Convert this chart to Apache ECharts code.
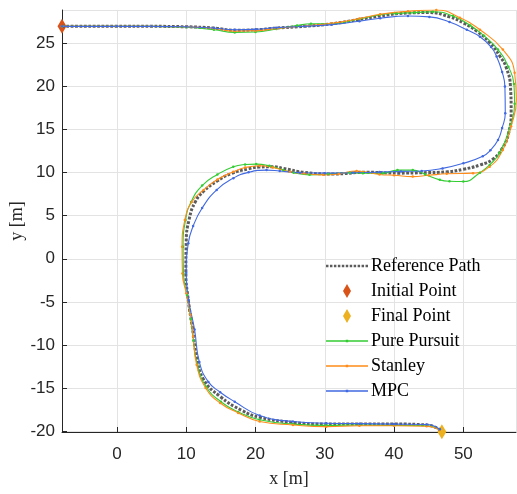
<!DOCTYPE html>
<html>
<head>
<meta charset="utf-8">
<script src="https://cdn.jsdelivr.net/npm/echarts@6/dist/echarts.min.js"></script>
<style>
  html, body { margin: 0; padding: 0; background: #fff; }
  #chart { width: 517px; height: 494px; }
</style>
</head>
<body>
<div id="chart"></div>
<script>
// trajectories, [x, y] in metres
const refPath = [
  [-7.93, 27.0], [0, 27.0], [5, 27.0], [10, 26.95], [14, 26.8], [17, 26.55], [20, 26.6],
  [23, 26.8], [27, 27.0], [31, 27.3], [35, 27.8], [38, 28.2], [42, 28.55], [45, 28.6],
  [48, 28.1], [50, 27.4], [52, 26.4], [53.8, 25.1], [55.3, 23.5], [56.2, 22.2], [56.8, 20.0],
  [56.9, 17.0], [56.5, 14.5], [55.6, 12.8], [54.3, 11.6], [52.4, 10.9], [50, 10.4], [47.6, 10.1],
  [44, 10.0], [40.8, 9.95], [36, 10.05], [31.2, 9.85], [27, 10.05], [24, 10.5], [22.5, 10.7],
  [20.5, 10.65], [19, 10.45], [16.5, 9.9], [14.4, 9.0], [12.6, 7.9], [11.3, 6.6], [10.4, 4.5],
  [10.0, 2.0], [9.95, -1.5], [10.3, -4.8], [10.9, -8.0], [11.5, -11.3], [12.5, -14.0],
  [14.9, -16.0], [18, -17.6], [20.6, -18.4], [25.4, -19.0], [30.2, -19.2], [35, -19.2],
  [40, -19.2], [44.7, -19.3], [46.6, -19.85]
];
const initialPoint = [[-7.93, 27.0]];
const finalPoint = [[46.9, -20.1]];
const purePursuit = [
  [-7.93, 27.0], [0, 27.0], [5, 27.0], [10, 26.9], [14, 26.6], [17, 26.3], [20, 26.35],
  [23, 26.7], [26, 27.1], [28, 27.3], [31, 27.3], [35, 27.85], [38, 28.35], [40.3, 28.5],
  [43, 28.6], [45.6, 28.7], [48.5, 28.2], [51, 27.1], [53, 25.9], [55, 24.3], [56.5, 22.3],
  [57.3, 20.3], [57.4, 18.0], [56.8, 15.5], [55.2, 12.3], [53.8, 10.9], [52.4, 10.0],
  [50, 8.97], [48, 9.0], [46.6, 9.17], [44.5, 9.8], [42.7, 10.3], [40.5, 10.3], [38.4, 9.95],
  [35.5, 9.95], [33.6, 10.0], [30.5, 9.85], [27.8, 9.75], [25.5, 10.0], [24, 10.3], [22, 10.8],
  [20.1, 11.0], [18.5, 10.95], [16.8, 10.7], [14.5, 9.8], [12.3, 8.5], [10.7, 6.6], [9.9, 4.5],
  [9.55, 1.4], [9.6, -1.7], [10.1, -4.2], [10.65, -7.0], [11.05, -9.5], [11.6, -12.3],
  [12.9, -14.9], [15.0, -16.6], [17.5, -17.8], [20.6, -18.7], [25.4, -19.2], [30.2, -19.35],
  [35, -19.3], [40, -19.35], [44.7, -19.4], [46.6, -19.85]
];
const stanley = [
  [-7.93, 27.0], [0, 27.0], [5, 27.0], [10, 26.95], [14, 26.75], [17, 26.45], [20, 26.5],
  [23, 26.75], [27, 27.05], [31, 27.35], [35, 27.9], [38, 28.4], [42, 28.75], [46.1, 28.9],
  [49.5, 28.0], [52.4, 26.6], [55.7, 24.3], [57.4, 21.6], [57.65, 18.5], [56.9, 15.4],
  [55.7, 12.65], [53.8, 10.7], [51.4, 9.95], [47.6, 9.87], [45, 9.7], [42.7, 9.55], [40, 9.7],
  [37.9, 9.8], [34.6, 10.2], [32, 9.85], [29.8, 9.75], [27, 9.9], [25, 10.1], [22.5, 10.6],
  [20.6, 10.8], [18.5, 10.6], [16.8, 10.1], [14.5, 9.2], [12.5, 8.0], [10.8, 6.6], [9.8, 4.5],
  [9.4, 1.4], [9.45, -1.7], [10.0, -4.0], [10.6, -6.5], [11.0, -9.0], [11.5, -12.3],
  [12.8, -15.0], [14.9, -16.75], [17.5, -17.9], [20.6, -18.9], [25.4, -19.3], [30.2, -19.5],
  [35, -19.4], [40, -19.4], [44.7, -19.45], [46.6, -19.9]
];
const mpc = [
  [-7.93, 27.0], [0, 27.0], [5, 27.0], [10, 26.95], [14, 26.8], [17, 26.6], [20, 26.65],
  [23, 26.85], [27, 27.0], [31, 27.2], [35, 27.6], [38, 27.95], [42, 28.2], [45.1, 28.1],
  [48, 27.5], [50.5, 26.6], [52.4, 25.8], [54, 24.6], [54.8, 23.5], [55.6, 21.7], [56.0, 20.0],
  [56.05, 16.9], [55.6, 15.2], [55.0, 13.8], [53.9, 12.6], [52.8, 11.9], [50, 11.1], [47, 10.5],
  [44, 10.2], [41, 10.15], [37.9, 10.07], [34, 10.0], [30, 9.95], [26.4, 10.0], [23.5, 10.2],
  [21.6, 10.3], [19, 10.05], [16.8, 9.37], [14.4, 8.0], [12.3, 5.9], [11.0, 3.8], [10.3, 1.8],
  [10.0, -1.66], [10.35, -4.8], [11.2, -8.2], [11.9, -12.0], [13.2, -14.3], [14.9, -15.5],
  [17, -16.6], [20.6, -18.2], [25.4, -18.9], [30.2, -19.1], [35, -19.15], [40, -19.2],
  [44.7, -19.25], [46.6, -19.8]
];

const seriesNames = ['Reference Path', 'Initial Point', 'Final Point', 'Pure Pursuit', 'Stanley', 'MPC'];
const colors = {
  ref: '#5c5c5c',
  init: '#D95319',
  final: '#EDB120',
  pp: '#33CC33',
  st: '#FF8C1A',
  mpc: '#4169E1'
};

const dotIcon = 'path://M0,6 L2.5,6 L2.5,8.5 L0,8.5 Z M4,6 L6.5,6 L6.5,8.5 L4,8.5 Z M8,6 L10.5,6 L10.5,8.5 L8,8.5 Z M12,6 L14.5,6 L14.5,8.5 L12,8.5 Z M16,6 L18.5,6 L18.5,8.5 L16,8.5 Z M20,6 L22.5,6 L22.5,8.5 L20,8.5 Z M24,6 L26.5,6 L26.5,8.5 L24,8.5 Z M28,6 L30.5,6 L30.5,8.5 L28,8.5 Z M32,6 L34.5,6 L34.5,8.5 L32,8.5 Z M36,6 L38.5,6 L38.5,8.5 L36,8.5 Z M40,6 L42.5,6 L42.5,8.5 L40,8.5 Z';
const lineIcon = 'path://M0,6.6 L42,6.6 L42,7.9 L0,7.9 Z M19.8,6 L22.2,6 L22.2,8.5 L19.8,8.5 Z';
const diamondIcon = 'path://M4,0 L8,7 L4,14 L0,7 Z';

const chart = echarts.init(document.getElementById('chart'), null, { renderer: 'canvas' });

function trajectory(name, data, color) {
  return {
    name: name,
    type: 'line',
    data: data,
    smooth: 0.5,
    symbol: 'circle',
    symbolSize: 2.5,
    showSymbol: true,
    lineStyle: { color: color, width: 1.1 },
    itemStyle: { color: color, borderWidth: 0 }
  };
}

const option = {
  animation: false,
  backgroundColor: '#ffffff',
  grid: { left: 62, right: 1, top: 10, bottom: 62, containLabel: false, outerBoundsMode: 'none' },
  legend: {
    orient: 'vertical',
    left: 326,
    top: 257,
    padding: 0,
    itemWidth: 42,
    itemHeight: 14,
    itemGap: 7,
    symbolKeepAspect: true,
    itemStyle: { borderWidth: 0 },
    textStyle: { fontFamily: 'Liberation Serif', fontSize: 18, color: '#000', padding: [0, 0, 0, -2] },
    data: [
      { name: seriesNames[0], icon: dotIcon, itemStyle: { color: colors.ref } },
      { name: seriesNames[1], icon: diamondIcon },
      { name: seriesNames[2], icon: diamondIcon },
      { name: seriesNames[3], icon: lineIcon },
      { name: seriesNames[4], icon: lineIcon },
      { name: seriesNames[5], icon: lineIcon }
    ]
  },
  xAxis: {
    type: 'value',
    min: -7.93,
    max: 57.6,
    minInterval: 10,
    maxInterval: 10,
    name: 'x [m]',
    nameLocation: 'middle',
    nameGap: 38,
    nameTextStyle: { fontFamily: 'Liberation Serif', fontSize: 18, color: '#262626' },
    axisLine: { onZero: false, lineStyle: { color: '#262626', width: 1 } },
    axisTick: { inside: true, length: 5, lineStyle: { color: '#262626' } },
    axisLabel: {
      showMinLabel: false, showMaxLabel: false, margin: 14,
      fontFamily: 'Liberation Sans', fontSize: 17, color: '#262626'
    },
    splitLine: { show: true, lineStyle: { color: '#e3e3e3', width: 1 } }
  },
  yAxis: {
    type: 'value',
    min: -20.12,
    max: 28.9,
    minInterval: 5,
    maxInterval: 5,
    name: 'y [m]',
    nameLocation: 'middle',
    nameRotate: 90,
    nameGap: 36,
    nameMoveOverlap: false,
    nameTextStyle: { fontFamily: 'Liberation Serif', fontSize: 18, color: '#262626' },
    axisLine: { show: true, onZero: false, lineStyle: { color: '#262626', width: 1 } },
    axisTick: { show: true, inside: true, length: 5, lineStyle: { color: '#262626' } },
    axisLabel: {
      showMinLabel: false, showMaxLabel: false, margin: 7,
      fontFamily: 'Liberation Sans', fontSize: 17, color: '#262626'
    },
    splitLine: { show: true, lineStyle: { color: '#e3e3e3', width: 1 } }
  },
  series: [
    {
      name: seriesNames[0],
      type: 'line',
      data: refPath,
      smooth: 0.5,
      showSymbol: false,
      symbol: 'none',
      lineStyle: { color: colors.ref, width: 3, type: [2.8, 1.6], cap: 'butt' },
      itemStyle: { color: colors.ref }
    },
    {
      name: seriesNames[1],
      type: 'scatter',
      data: initialPoint,
      symbol: 'diamond',
      symbolSize: [9, 15],
      clip: false,
      itemStyle: { color: colors.init, opacity: 1 }
    },
    {
      name: seriesNames[2],
      type: 'scatter',
      data: finalPoint,
      symbol: 'diamond',
      symbolSize: [9, 15],
      clip: false,
      itemStyle: { color: colors.final, opacity: 1 }
    },
    trajectory(seriesNames[3], purePursuit, colors.pp),
    trajectory(seriesNames[4], stanley, colors.st),
    trajectory(seriesNames[5], mpc, colors.mpc)
  ]
};

chart.setOption(option);
</script>
</body>
</html>
